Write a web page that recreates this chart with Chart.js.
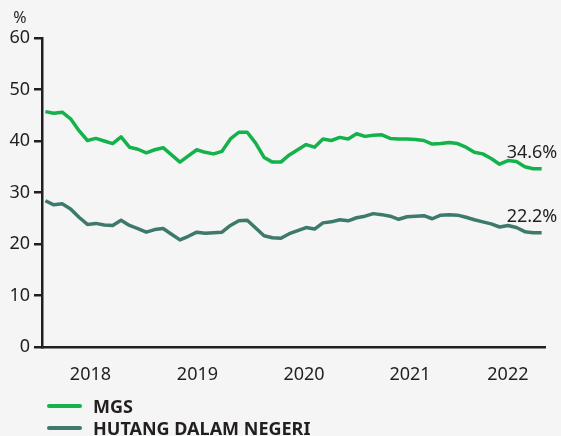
<!DOCTYPE html>
<html>
<head>
<meta charset="utf-8">
<script src="https://cdn.jsdelivr.net/npm/chart.js@4.4.0/dist/chart.umd.min.js"></script>
<style>
  body { margin: 0; background: #f5f5f5; font-family: "Noto Sans", sans-serif; }
  #wrap { position: relative; width: 561px; height: 436px; }
  #legend { position: absolute; left: 47px; top: 395px; }
  .row { display: flex; align-items: center; height: 22px; }
  .sw { width: 35px; height: 4px; border-radius: 2px; margin-right: 11px; }
  .lbl { font-weight: bold; font-size: 18px; color: #231f20; }
</style>
</head>
<body>
<div id="wrap">
  <canvas id="lineChart" width="561" height="436"></canvas>
  <div id="legend">
    <div class="row"><span class="sw" style="background:#13b24b"></span><span class="lbl">MGS</span></div>
    <div class="row"><span class="sw" style="background:#3d7a6b"></span><span class="lbl">HUTANG DALAM NEGERI</span></div>
  </div>
</div>
<script>
// data (monthly points)
var mgs = [45.7, 45.4, 45.6, 44.3, 42.0, 40.1, 40.5, 40.0, 39.5, 40.8,
  38.8, 38.4, 37.7, 38.3, 38.7, 37.3, 35.9, 37.1, 38.3, 37.8,
  37.5, 38.0, 40.4, 41.7, 41.7, 39.6, 36.8, 35.9, 35.9, 37.3,
  38.3, 39.3, 38.8, 40.4, 40.1, 40.7, 40.4, 41.4, 40.9, 41.1,
  41.2, 40.5, 40.4, 40.4, 40.3, 40.1, 39.4, 39.5, 39.7, 39.5,
  38.8, 37.8, 37.5, 36.6, 35.5, 36.2, 36.0, 35.0, 34.6, 34.6];
var hutang = [28.4, 27.6, 27.8, 26.8, 25.2, 23.8, 24.0, 23.7, 23.6, 24.6,
  23.6, 23.0, 22.3, 22.8, 23.0, 21.9, 20.8, 21.5, 22.3, 22.1,
  22.2, 22.3, 23.6, 24.5, 24.6, 23.1, 21.6, 21.2, 21.1, 22.0,
  22.6, 23.2, 22.9, 24.1, 24.3, 24.7, 24.5, 25.1, 25.4, 25.9,
  25.7, 25.4, 24.8, 25.3, 25.4, 25.5, 24.9, 25.6, 25.7, 25.6,
  25.2, 24.7, 24.3, 23.9, 23.3, 23.6, 23.2, 22.4, 22.2, 22.2];
var yearLabels = ["2018", "2019", "2020", "2021", "2022"];
var yearAt = [5.36, 18.08, 30.75, 43.35, 54.99];
var endLabels = ["34.6%", "22.2%"];

var ink = "#231f20";

function toPoints(arr) {
  return arr.map(function(v, i) { return { x: i, y: v }; });
}

var endLabelPlugin = {
  id: "endLabels",
  afterDatasetsDraw: function(chart) {
    var ctx = chart.ctx;
    ctx.save();
    ctx.fillStyle = ink;
    ctx.font = "18px 'Noto Sans'";
    ctx.textAlign = "left";
    ctx.textBaseline = "alphabetic";
    chart.data.datasets.forEach(function(ds, i) {
      var pts = chart.getDatasetMeta(i).data;
      var p = pts[pts.length - 1];
      ctx.fillText(endLabels[i], p.x - 35, p.y - 11);
    });
    // unit
    ctx.font = "16px 'Noto Sans'";
    ctx.textAlign = "center";
    ctx.fillText("%", 20, 23);
    ctx.restore();
  }
};

var ctxL = document.getElementById("lineChart").getContext("2d");
var myLineChart = new Chart(ctxL, {
  type: "line",
  data: {
    datasets: [
      {
        label: "MGS",
        data: toPoints(mgs),
        borderColor: "#13b24b",
        borderWidth: 3.5,
        pointRadius: 0,
        tension: 0,
        borderJoinStyle: "round"
      },
      {
        label: "HUTANG DALAM NEGERI",
        data: toPoints(hutang),
        borderColor: "#3d7a6b",
        borderWidth: 3.5,
        pointRadius: 0,
        tension: 0,
        borderJoinStyle: "round"
      }
    ]
  },
  options: {
    responsive: false,
    animation: false,
    layout: { padding: { top: 38, right: 16, left: 0, bottom: 0 } },
    plugins: { legend: { display: false }, tooltip: { enabled: false } },
    scales: {
      x: {
        type: "linear",
        min: -0.4,
        max: 59.4,
        afterFit: function(scale) { scale.height = 89; },
        afterBuildTicks: function(scale) {
          scale.ticks = yearAt.map(function(v) { return { value: v }; });
        },
        ticks: {
          autoSkip: false,
          maxRotation: 0,
          padding: 9,
          color: ink,
          font: { family: "Noto Sans", size: 18 },
          callback: function(value) {
            var k = yearAt.indexOf(value);
            return k >= 0 ? yearLabels[k] : "";
          }
        },
        grid: { display: false },
        border: { color: ink, width: 2.5 }
      },
      y: {
        min: 0,
        max: 60,
        afterFit: function(scale) { scale.width = 42; },
        ticks: {
          stepSize: 10,
          padding: 4,
          color: ink,
          font: { family: "Noto Sans", size: 18 }
        },
        grid: { drawOnChartArea: false, drawTicks: true, tickLength: 8, color: ink, lineWidth: 2.5 },
        border: { color: ink, width: 2.5 }
      }
    }
  },
  plugins: [endLabelPlugin]
});
</script>
</body>
</html>
